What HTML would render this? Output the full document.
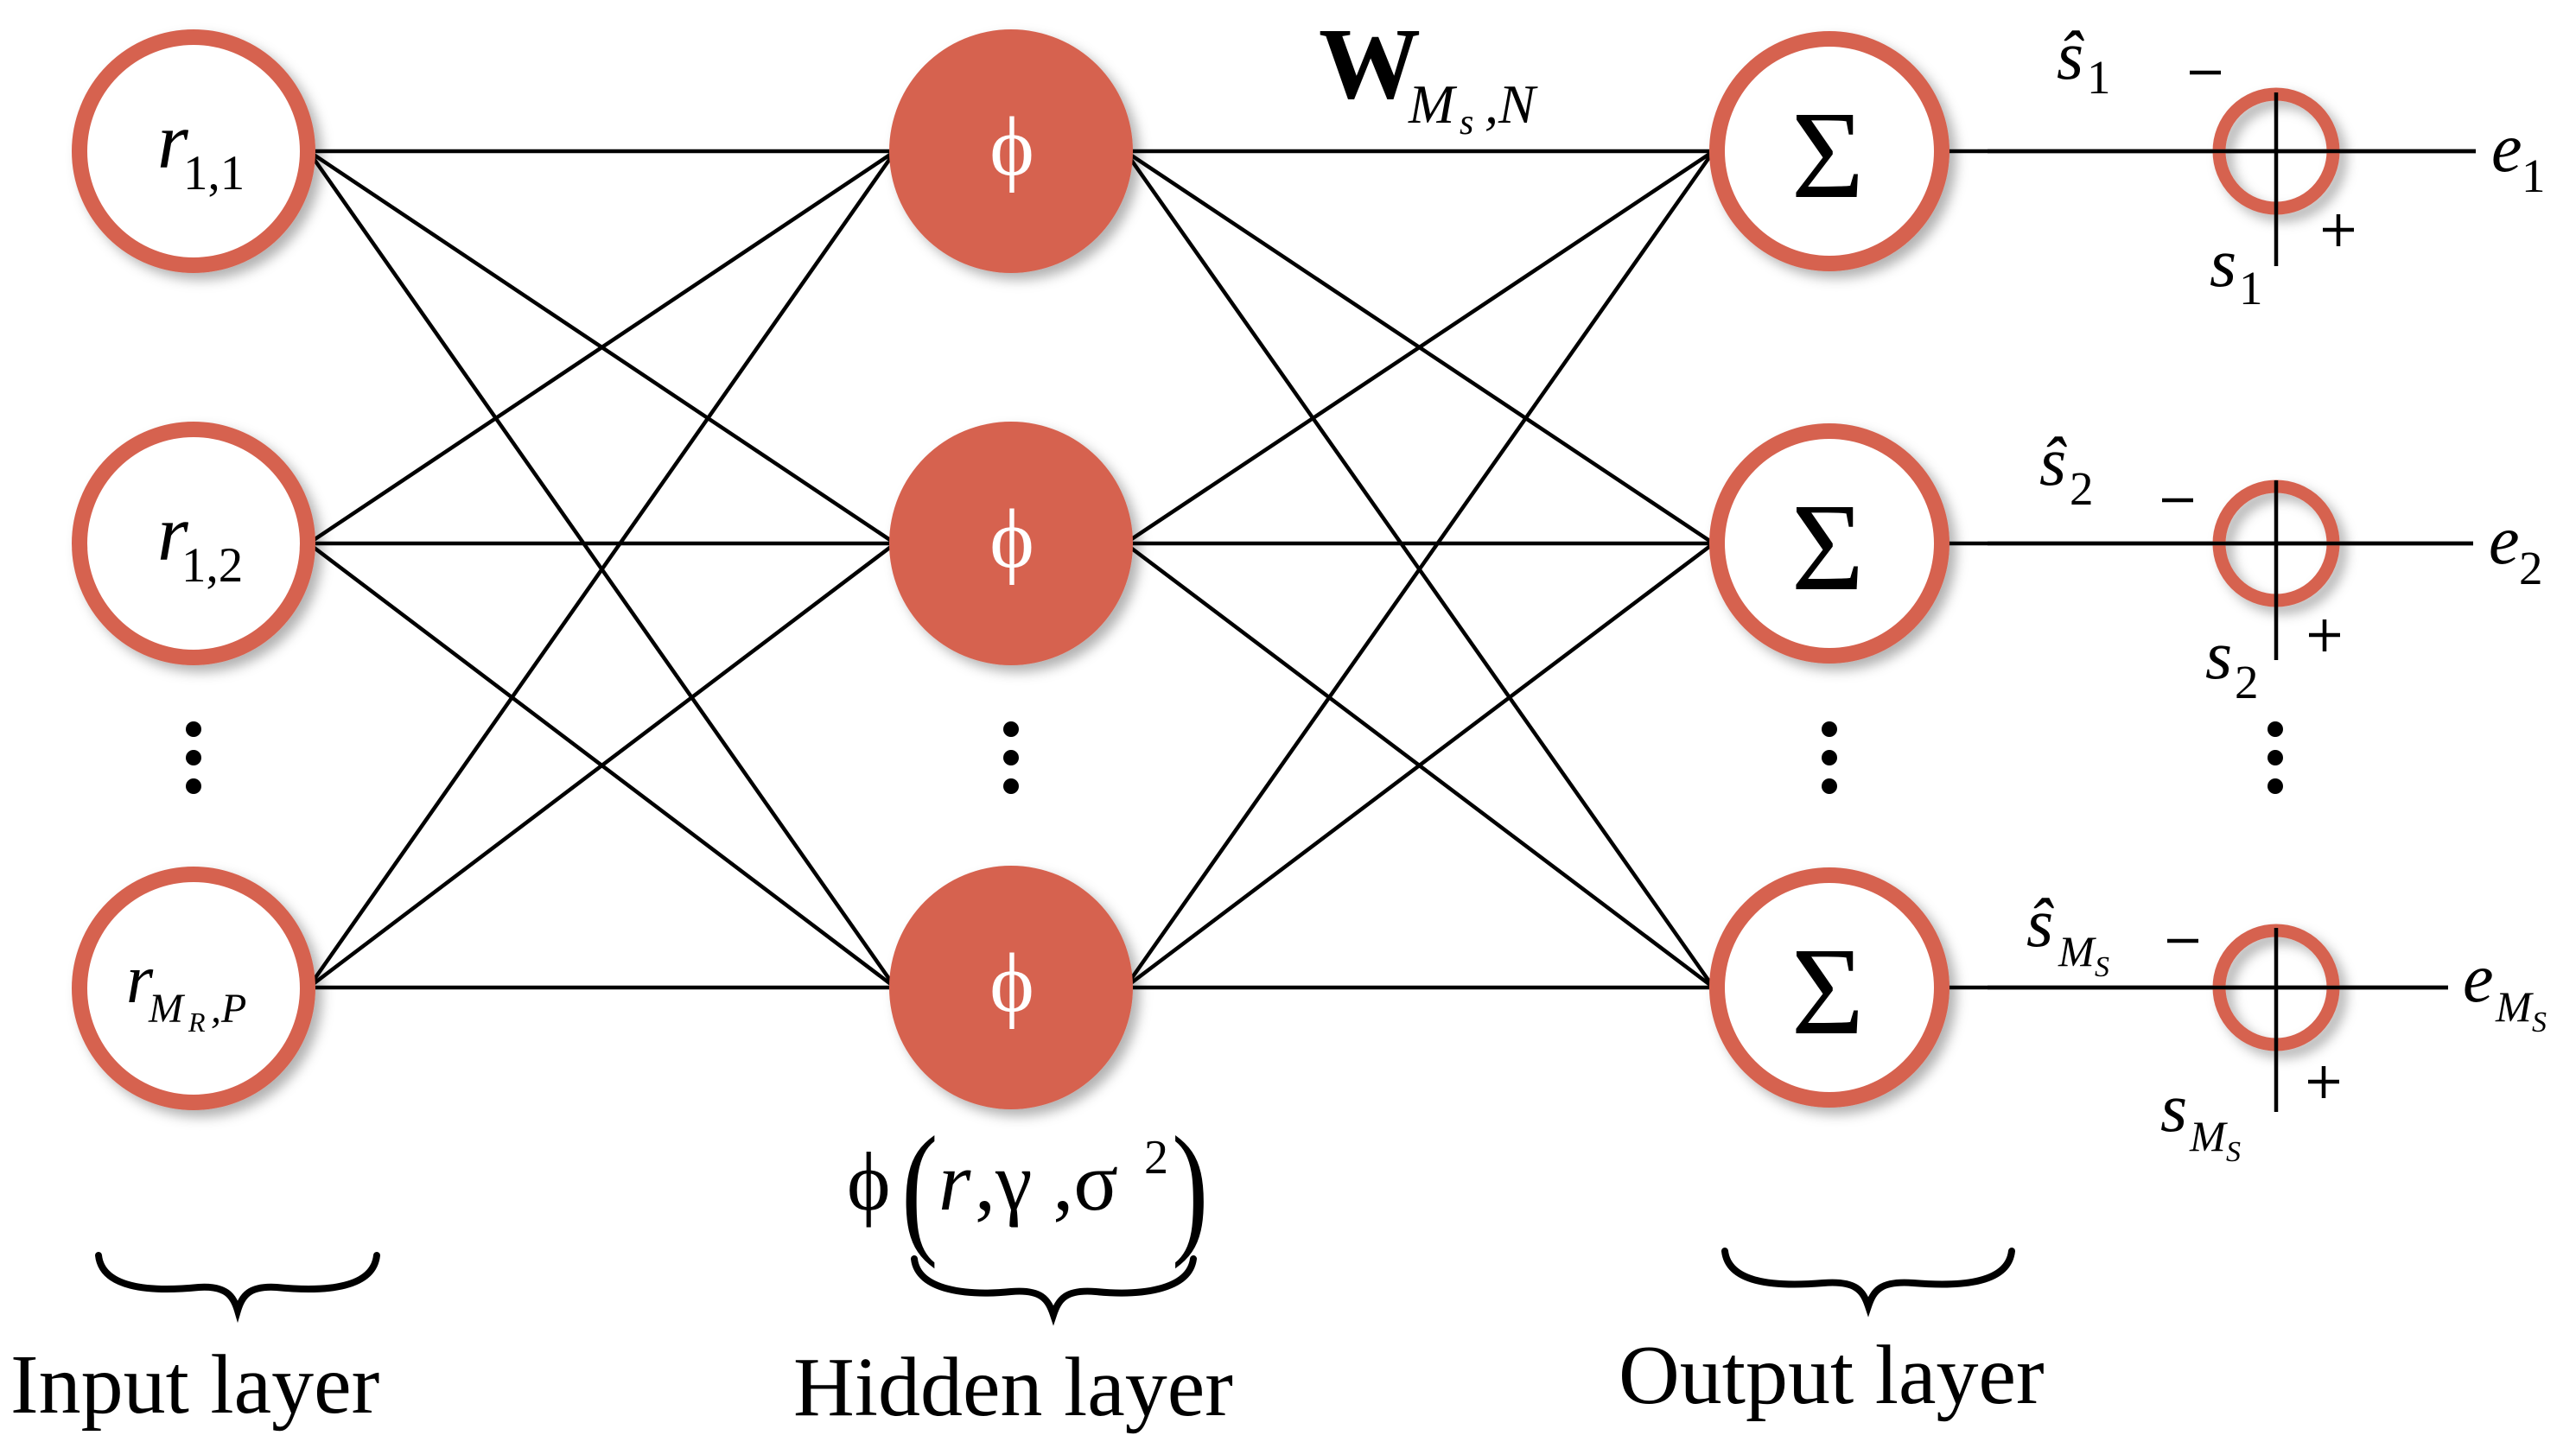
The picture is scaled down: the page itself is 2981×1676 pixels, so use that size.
<!DOCTYPE html>
<html><head><meta charset="utf-8"><style>
html,body{margin:0;padding:0;background:#fff;}
svg{display:block;font-family:'Liberation Serif','Times New Roman',Times,serif;}
text{font-family:'Liberation Serif','Times New Roman',Times,serif;fill:#000;}
.i{font-style:italic;}
</style></head><body>
<svg width="2981" height="1676" viewBox="0 0 2981 1676" xmlns="http://www.w3.org/2000/svg" font-family="Liberation Serif, serif">
<defs>
<filter id="sh" x="-20%" y="-20%" width="150%" height="150%">
<feDropShadow dx="8" dy="8" stdDeviation="7" flood-color="#000" flood-opacity="0.3"/>
</filter>
</defs>
<g stroke="#000" stroke-width="4.5" fill="none">
<line x1="357" y1="175" x2="1036" y2="175"/><line x1="357" y1="175" x2="1036" y2="629"/><line x1="357" y1="175" x2="1036" y2="1143"/>
<line x1="357" y1="629" x2="1036" y2="175"/><line x1="357" y1="629" x2="1036" y2="629"/><line x1="357" y1="629" x2="1036" y2="1143"/>
<line x1="357" y1="1143" x2="1036" y2="175"/><line x1="357" y1="1143" x2="1036" y2="629"/><line x1="357" y1="1143" x2="1036" y2="1143"/>
<line x1="1302" y1="175" x2="1983" y2="175"/><line x1="1302" y1="175" x2="1983" y2="629"/><line x1="1302" y1="175" x2="1983" y2="1143"/>
<line x1="1302" y1="629" x2="1983" y2="175"/><line x1="1302" y1="629" x2="1983" y2="629"/><line x1="1302" y1="629" x2="1983" y2="1143"/>
<line x1="1302" y1="1143" x2="1983" y2="175"/><line x1="1302" y1="1143" x2="1983" y2="629"/><line x1="1302" y1="1143" x2="1983" y2="1143"/>
<line x1="2249" y1="175" x2="2865" y2="175"/>
<line x1="2249" y1="629" x2="2862" y2="629"/>
<line x1="2249" y1="1143" x2="2833" y2="1143"/>
</g>
<g fill="#fff" stroke="#d6624f" stroke-width="18" filter="url(#sh)">
<circle cx="224" cy="175" r="132"/><circle cx="224" cy="629" r="132"/><circle cx="224" cy="1144" r="132"/>
<circle cx="2117" cy="175" r="130"/><circle cx="2117" cy="629" r="130"/><circle cx="2117" cy="1143" r="130"/>
</g>
<g fill="#d6624f" filter="url(#sh)">
<circle cx="1170" cy="175" r="141"/><circle cx="1170" cy="629" r="141"/><circle cx="1170" cy="1143" r="141"/>
</g>
<g fill="none" stroke="#d6624f" stroke-width="15" filter="url(#sh)">
<circle cx="2634" cy="175" r="66"/><circle cx="2634" cy="629" r="66"/><circle cx="2634" cy="1143" r="66"/>
</g>
<g stroke="#000" stroke-width="4.5">
<line x1="2300" y1="175" x2="2865" y2="175"/>
<line x1="2300" y1="629" x2="2862" y2="629"/>
<line x1="2300" y1="1143" x2="2833" y2="1143"/>
<line x1="2634" y1="107" x2="2634" y2="308"/>
<line x1="2634" y1="556" x2="2634" y2="764"/>
<line x1="2634" y1="1074" x2="2634" y2="1287"/>
<!-- minus and plus signs drawn as strokes -->
<line x1="2534" y1="84" x2="2570" y2="84"/>
<line x1="2502" y1="579" x2="2538" y2="579"/>
<line x1="2508" y1="1089" x2="2544" y2="1089"/>
<line x1="2688" y1="266" x2="2724" y2="266"/><line x1="2706" y1="248" x2="2706" y2="285"/>
<line x1="2672" y1="735" x2="2708" y2="735"/><line x1="2690" y1="717" x2="2690" y2="754"/>
<line x1="2671" y1="1252" x2="2707" y2="1252"/><line x1="2689" y1="1234" x2="2689" y2="1271"/>
</g>
<g fill="#000">
<circle cx="224" cy="844" r="9"/><circle cx="224" cy="877" r="9"/><circle cx="224" cy="910" r="9"/>
<circle cx="1170" cy="844" r="9"/><circle cx="1170" cy="877" r="9"/><circle cx="1170" cy="910" r="9"/>
<circle cx="2117" cy="844" r="9"/><circle cx="2117" cy="877" r="9"/><circle cx="2117" cy="910" r="9"/>
<circle cx="2633" cy="844" r="9"/><circle cx="2633" cy="877" r="9"/><circle cx="2633" cy="910" r="9"/>
</g>
<text x="182" y="194" font-size="92" class="i">r</text><text x="212" y="219" font-size="57">1,1</text>
<text x="182" y="648" font-size="92" class="i">r</text><text x="210" y="673" font-size="57">1,2</text>
<text x="146" y="1160" font-size="80" class="i">r</text><text x="172" y="1183" font-size="48" class="i">M</text><text x="218" y="1194" font-size="32" class="i">R</text><text x="244" y="1183" font-size="48" class="i">,P</text>
<g font-size="98" text-anchor="middle">
<text x="1171" y="202" style="fill:#fff">ϕ</text>
<text x="1171" y="656" style="fill:#fff">ϕ</text>
<text x="1171" y="1170" style="fill:#fff">ϕ</text>
</g>
<g font-size="145" text-anchor="middle">
<text x="2115" y="228">Σ</text><text x="2115" y="682">Σ</text><text x="2115" y="1196">Σ</text>
</g>
<text x="1526" y="113" font-size="118" font-weight="bold">W</text>
<text x="1630" y="142" font-size="64" class="i">M</text><text x="1689" y="155" font-size="42" class="i">s</text><text x="1718" y="142" font-size="64" class="i">,N</text>

<text x="2380" y="91" font-size="80" class="i">ŝ</text><text x="2415" y="108" font-size="55">1</text>
<text x="2557" y="331" font-size="80" class="i">s</text><text x="2591" y="352" font-size="55">1</text>
<text x="2883" y="198" font-size="80" class="i">e</text><text x="2918" y="222" font-size="55">1</text>

<text x="2360" y="561" font-size="80" class="i">ŝ</text><text x="2395" y="584" font-size="55">2</text>
<text x="2552" y="785" font-size="80" class="i">s</text><text x="2586" y="808" font-size="55">2</text>
<text x="2880" y="652" font-size="80" class="i">e</text><text x="2915" y="676" font-size="55">2</text>

<text x="2345" y="1095" font-size="80" class="i">ŝ</text><text x="2382" y="1118" font-size="50" class="i">M</text><text x="2424" y="1130" font-size="34" class="i">S</text>
<text x="2500" y="1309" font-size="80" class="i">s</text><text x="2534" y="1332" font-size="50" class="i">M</text><text x="2576" y="1344" font-size="34" class="i">S</text>
<text x="2850" y="1159" font-size="80" class="i">e</text><text x="2888" y="1182" font-size="50" class="i">M</text><text x="2930" y="1194" font-size="34" class="i">S</text>

<text x="980" y="1400" font-size="96">ϕ</text>
<text x="1040" y="1432" font-size="170" transform="translate(1052,1432) scale(0.75,1) translate(-1052,-1432)">(</text>
<text x="1086" y="1400" font-size="96" class="i">r</text>
<text x="1128" y="1400" font-size="96">,γ ,σ</text>
<text x="1324" y="1358" font-size="56">2</text>
<text x="1352" y="1432" font-size="170" transform="translate(1368,1432) scale(0.75,1) translate(-1368,-1432)">)</text>
<g fill="none" stroke="#000" stroke-width="8" stroke-linecap="round">
<path d="M114,1453 C118,1490 170,1496 230,1490 C262,1488 270,1500 275,1517 C280,1500 288,1488 320,1490 C380,1496 432,1490 436,1453"/>
<path d="M1058,1457 C1062,1494 1120,1500 1170,1495 C1205,1492 1213,1504 1219,1522 C1225,1504 1233,1492 1268,1495 C1318,1500 1376,1494 1381,1457"/>
<path d="M1996,1448 C2000,1484 2050,1490 2110,1485 C2148,1482 2156,1494 2162,1512 C2168,1494 2176,1482 2214,1485 C2274,1490 2324,1484 2328,1448"/>
</g>
<text x="12" y="1635" font-size="98">Input layer</text>
<text x="918" y="1638" font-size="98">Hidden layer</text>
<text x="1873" y="1624" font-size="98">Output layer</text>
</svg>
</body></html>
